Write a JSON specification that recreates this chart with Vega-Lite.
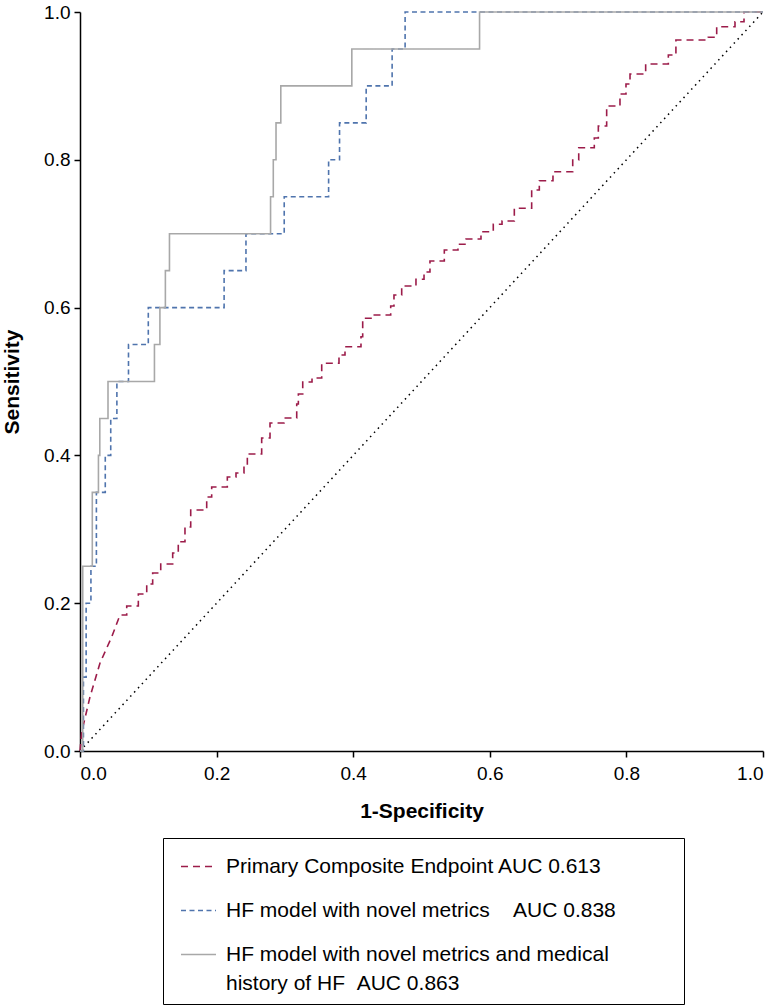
{
  "$schema": "https://vega.github.io/schema/vega-lite/v6.json",
  "width": 683,
  "height": 739,
  "autosize": {"type": "none"},
  "padding": {"left": 80, "top": 12, "right": 17, "bottom": 256},
  "background": "white",
  "config": {
    "font": "Liberation Sans",
    "view": {"stroke": null},
    "style": {"guide-label": {"lineHeight": 29}},
    "axis": {
      "grid": false,
      "domainColor": "black",
      "domainWidth": 1.5,
      "tickColor": "black",
      "tickWidth": 1.5,
      "tickSize": 6,
      "labelColor": "black",
      "labelFontSize": 19,
      "titleColor": "black",
      "titleFontSize": 21,
      "titleFontWeight": "bold"
    }
  },
  "datasets": {
    "diag": [{"fpr": 0, "tpr": 0}, {"fpr": 1, "tpr": 1}],
    "roc": [
      {"series": "Primary Composite Endpoint AUC 0.613", "order": 1, "fpr": 0, "tpr": 0},
      {"series": "Primary Composite Endpoint AUC 0.613", "order": 2, "fpr": 0.0025, "tpr": 0.0257},
      {"series": "Primary Composite Endpoint AUC 0.613", "order": 3, "fpr": 0.0146, "tpr": 0.0731},
      {"series": "Primary Composite Endpoint AUC 0.613", "order": 4, "fpr": 0.0293, "tpr": 0.1191},
      {"series": "Primary Composite Endpoint AUC 0.613", "order": 5, "fpr": 0.0464, "tpr": 0.1543},
      {"series": "Primary Composite Endpoint AUC 0.613", "order": 6, "fpr": 0.0586, "tpr": 0.1840},
      {"series": "Primary Composite Endpoint AUC 0.613", "order": 7, "fpr": 0.0684, "tpr": 0.1840},
      {"series": "Primary Composite Endpoint AUC 0.613", "order": 8, "fpr": 0.0684, "tpr": 0.1962},
      {"series": "Primary Composite Endpoint AUC 0.613", "order": 9, "fpr": 0.0854, "tpr": 0.1962},
      {"series": "Primary Composite Endpoint AUC 0.613", "order": 10, "fpr": 0.0854, "tpr": 0.2124},
      {"series": "Primary Composite Endpoint AUC 0.613", "order": 11, "fpr": 0.0977, "tpr": 0.2124},
      {"series": "Primary Composite Endpoint AUC 0.613", "order": 12, "fpr": 0.0977, "tpr": 0.2260},
      {"series": "Primary Composite Endpoint AUC 0.613", "order": 13, "fpr": 0.1064, "tpr": 0.2260},
      {"series": "Primary Composite Endpoint AUC 0.613", "order": 14, "fpr": 0.1064, "tpr": 0.2409},
      {"series": "Primary Composite Endpoint AUC 0.613", "order": 15, "fpr": 0.1182, "tpr": 0.2409},
      {"series": "Primary Composite Endpoint AUC 0.613", "order": 16, "fpr": 0.1182, "tpr": 0.2530},
      {"series": "Primary Composite Endpoint AUC 0.613", "order": 17, "fpr": 0.1357, "tpr": 0.2530},
      {"series": "Primary Composite Endpoint AUC 0.613", "order": 18, "fpr": 0.1357, "tpr": 0.2679},
      {"series": "Primary Composite Endpoint AUC 0.613", "order": 19, "fpr": 0.1439, "tpr": 0.2679},
      {"series": "Primary Composite Endpoint AUC 0.613", "order": 20, "fpr": 0.1439, "tpr": 0.2832},
      {"series": "Primary Composite Endpoint AUC 0.613", "order": 21, "fpr": 0.1537, "tpr": 0.2832},
      {"series": "Primary Composite Endpoint AUC 0.613", "order": 22, "fpr": 0.1537, "tpr": 0.3031},
      {"series": "Primary Composite Endpoint AUC 0.613", "order": 23, "fpr": 0.1621, "tpr": 0.3031},
      {"series": "Primary Composite Endpoint AUC 0.613", "order": 24, "fpr": 0.1621, "tpr": 0.3261},
      {"series": "Primary Composite Endpoint AUC 0.613", "order": 25, "fpr": 0.1855, "tpr": 0.3261},
      {"series": "Primary Composite Endpoint AUC 0.613", "order": 26, "fpr": 0.1855, "tpr": 0.3437},
      {"series": "Primary Composite Endpoint AUC 0.613", "order": 27, "fpr": 0.1928, "tpr": 0.3437},
      {"series": "Primary Composite Endpoint AUC 0.613", "order": 28, "fpr": 0.1928, "tpr": 0.3572},
      {"series": "Primary Composite Endpoint AUC 0.613", "order": 29, "fpr": 0.2157, "tpr": 0.3572},
      {"series": "Primary Composite Endpoint AUC 0.613", "order": 30, "fpr": 0.2157, "tpr": 0.3708},
      {"series": "Primary Composite Endpoint AUC 0.613", "order": 31, "fpr": 0.2284, "tpr": 0.3708},
      {"series": "Primary Composite Endpoint AUC 0.613", "order": 32, "fpr": 0.2284, "tpr": 0.3762},
      {"series": "Primary Composite Endpoint AUC 0.613", "order": 33, "fpr": 0.2401, "tpr": 0.3762},
      {"series": "Primary Composite Endpoint AUC 0.613", "order": 34, "fpr": 0.2401, "tpr": 0.3857},
      {"series": "Primary Composite Endpoint AUC 0.613", "order": 35, "fpr": 0.2450, "tpr": 0.3857},
      {"series": "Primary Composite Endpoint AUC 0.613", "order": 36, "fpr": 0.2450, "tpr": 0.4019},
      {"series": "Primary Composite Endpoint AUC 0.613", "order": 37, "fpr": 0.2660, "tpr": 0.4019},
      {"series": "Primary Composite Endpoint AUC 0.613", "order": 38, "fpr": 0.2660, "tpr": 0.4235},
      {"series": "Primary Composite Endpoint AUC 0.613", "order": 39, "fpr": 0.2782, "tpr": 0.4235},
      {"series": "Primary Composite Endpoint AUC 0.613", "order": 40, "fpr": 0.2782, "tpr": 0.4438},
      {"series": "Primary Composite Endpoint AUC 0.613", "order": 41, "fpr": 0.2987, "tpr": 0.4438},
      {"series": "Primary Composite Endpoint AUC 0.613", "order": 42, "fpr": 0.2987, "tpr": 0.4506},
      {"series": "Primary Composite Endpoint AUC 0.613", "order": 43, "fpr": 0.3173, "tpr": 0.4506},
      {"series": "Primary Composite Endpoint AUC 0.613", "order": 44, "fpr": 0.3173, "tpr": 0.4696},
      {"series": "Primary Composite Endpoint AUC 0.613", "order": 45, "fpr": 0.3197, "tpr": 0.4696},
      {"series": "Primary Composite Endpoint AUC 0.613", "order": 46, "fpr": 0.3197, "tpr": 0.4831},
      {"series": "Primary Composite Endpoint AUC 0.613", "order": 47, "fpr": 0.3261, "tpr": 0.4831},
      {"series": "Primary Composite Endpoint AUC 0.613", "order": 48, "fpr": 0.3261, "tpr": 0.4993},
      {"series": "Primary Composite Endpoint AUC 0.613", "order": 49, "fpr": 0.3397, "tpr": 0.4993},
      {"series": "Primary Composite Endpoint AUC 0.613", "order": 50, "fpr": 0.3397, "tpr": 0.5047},
      {"series": "Primary Composite Endpoint AUC 0.613", "order": 51, "fpr": 0.3539, "tpr": 0.5047},
      {"series": "Primary Composite Endpoint AUC 0.613", "order": 52, "fpr": 0.3539, "tpr": 0.5246},
      {"series": "Primary Composite Endpoint AUC 0.613", "order": 53, "fpr": 0.3792, "tpr": 0.5246},
      {"series": "Primary Composite Endpoint AUC 0.613", "order": 54, "fpr": 0.3792, "tpr": 0.5359},
      {"series": "Primary Composite Endpoint AUC 0.613", "order": 55, "fpr": 0.3880, "tpr": 0.5359},
      {"series": "Primary Composite Endpoint AUC 0.613", "order": 56, "fpr": 0.3880, "tpr": 0.5471},
      {"series": "Primary Composite Endpoint AUC 0.613", "order": 57, "fpr": 0.4114, "tpr": 0.5471},
      {"series": "Primary Composite Endpoint AUC 0.613", "order": 58, "fpr": 0.4114, "tpr": 0.5606},
      {"series": "Primary Composite Endpoint AUC 0.613", "order": 59, "fpr": 0.4139, "tpr": 0.5606},
      {"series": "Primary Composite Endpoint AUC 0.613", "order": 60, "fpr": 0.4139, "tpr": 0.5855},
      {"series": "Primary Composite Endpoint AUC 0.613", "order": 61, "fpr": 0.4290, "tpr": 0.5855},
      {"series": "Primary Composite Endpoint AUC 0.613", "order": 62, "fpr": 0.4290, "tpr": 0.5900},
      {"series": "Primary Composite Endpoint AUC 0.613", "order": 63, "fpr": 0.4549, "tpr": 0.5900},
      {"series": "Primary Composite Endpoint AUC 0.613", "order": 64, "fpr": 0.4549, "tpr": 0.6022},
      {"series": "Primary Composite Endpoint AUC 0.613", "order": 65, "fpr": 0.4597, "tpr": 0.6022},
      {"series": "Primary Composite Endpoint AUC 0.613", "order": 66, "fpr": 0.4597, "tpr": 0.6171},
      {"series": "Primary Composite Endpoint AUC 0.613", "order": 67, "fpr": 0.4710, "tpr": 0.6171},
      {"series": "Primary Composite Endpoint AUC 0.613", "order": 68, "fpr": 0.4710, "tpr": 0.6292},
      {"series": "Primary Composite Endpoint AUC 0.613", "order": 69, "fpr": 0.4919, "tpr": 0.6292},
      {"series": "Primary Composite Endpoint AUC 0.613", "order": 70, "fpr": 0.4919, "tpr": 0.6383},
      {"series": "Primary Composite Endpoint AUC 0.613", "order": 71, "fpr": 0.5037, "tpr": 0.6383},
      {"series": "Primary Composite Endpoint AUC 0.613", "order": 72, "fpr": 0.5037, "tpr": 0.6482},
      {"series": "Primary Composite Endpoint AUC 0.613", "order": 73, "fpr": 0.5124, "tpr": 0.6482},
      {"series": "Primary Composite Endpoint AUC 0.613", "order": 74, "fpr": 0.5124, "tpr": 0.6631},
      {"series": "Primary Composite Endpoint AUC 0.613", "order": 75, "fpr": 0.5334, "tpr": 0.6631},
      {"series": "Primary Composite Endpoint AUC 0.613", "order": 76, "fpr": 0.5334, "tpr": 0.6779},
      {"series": "Primary Composite Endpoint AUC 0.613", "order": 77, "fpr": 0.5534, "tpr": 0.6779},
      {"series": "Primary Composite Endpoint AUC 0.613", "order": 78, "fpr": 0.5534, "tpr": 0.6857},
      {"series": "Primary Composite Endpoint AUC 0.613", "order": 79, "fpr": 0.5652, "tpr": 0.6857},
      {"series": "Primary Composite Endpoint AUC 0.613", "order": 80, "fpr": 0.5652, "tpr": 0.6928},
      {"series": "Primary Composite Endpoint AUC 0.613", "order": 81, "fpr": 0.5871, "tpr": 0.6928},
      {"series": "Primary Composite Endpoint AUC 0.613", "order": 82, "fpr": 0.5871, "tpr": 0.7027},
      {"series": "Primary Composite Endpoint AUC 0.613", "order": 83, "fpr": 0.6051, "tpr": 0.7027},
      {"series": "Primary Composite Endpoint AUC 0.613", "order": 84, "fpr": 0.6051, "tpr": 0.7127},
      {"series": "Primary Composite Endpoint AUC 0.613", "order": 85, "fpr": 0.6179, "tpr": 0.7127},
      {"series": "Primary Composite Endpoint AUC 0.613", "order": 86, "fpr": 0.6179, "tpr": 0.7172},
      {"series": "Primary Composite Endpoint AUC 0.613", "order": 87, "fpr": 0.6359, "tpr": 0.7172},
      {"series": "Primary Composite Endpoint AUC 0.613", "order": 88, "fpr": 0.6359, "tpr": 0.7344},
      {"series": "Primary Composite Endpoint AUC 0.613", "order": 89, "fpr": 0.6613, "tpr": 0.7344},
      {"series": "Primary Composite Endpoint AUC 0.613", "order": 90, "fpr": 0.6613, "tpr": 0.7591},
      {"series": "Primary Composite Endpoint AUC 0.613", "order": 91, "fpr": 0.6725, "tpr": 0.7591},
      {"series": "Primary Composite Endpoint AUC 0.613", "order": 92, "fpr": 0.6725, "tpr": 0.7717},
      {"series": "Primary Composite Endpoint AUC 0.613", "order": 93, "fpr": 0.6925, "tpr": 0.7717},
      {"series": "Primary Composite Endpoint AUC 0.613", "order": 94, "fpr": 0.6925, "tpr": 0.7839},
      {"series": "Primary Composite Endpoint AUC 0.613", "order": 95, "fpr": 0.7214, "tpr": 0.7839},
      {"series": "Primary Composite Endpoint AUC 0.613", "order": 96, "fpr": 0.7214, "tpr": 0.7997},
      {"series": "Primary Composite Endpoint AUC 0.613", "order": 97, "fpr": 0.7302, "tpr": 0.7997},
      {"series": "Primary Composite Endpoint AUC 0.613", "order": 98, "fpr": 0.7302, "tpr": 0.8164},
      {"series": "Primary Composite Endpoint AUC 0.613", "order": 99, "fpr": 0.7530, "tpr": 0.8164},
      {"series": "Primary Composite Endpoint AUC 0.613", "order": 100, "fpr": 0.7530, "tpr": 0.8295},
      {"series": "Primary Composite Endpoint AUC 0.613", "order": 101, "fpr": 0.7589, "tpr": 0.8295},
      {"series": "Primary Composite Endpoint AUC 0.613", "order": 102, "fpr": 0.7589, "tpr": 0.8457},
      {"series": "Primary Composite Endpoint AUC 0.613", "order": 103, "fpr": 0.7711, "tpr": 0.8457},
      {"series": "Primary Composite Endpoint AUC 0.613", "order": 104, "fpr": 0.7711, "tpr": 0.8728},
      {"series": "Primary Composite Endpoint AUC 0.613", "order": 105, "fpr": 0.7906, "tpr": 0.8728},
      {"series": "Primary Composite Endpoint AUC 0.613", "order": 106, "fpr": 0.7906, "tpr": 0.8890},
      {"series": "Primary Composite Endpoint AUC 0.613", "order": 107, "fpr": 0.7994, "tpr": 0.8890},
      {"series": "Primary Composite Endpoint AUC 0.613", "order": 108, "fpr": 0.7994, "tpr": 0.9026},
      {"series": "Primary Composite Endpoint AUC 0.613", "order": 109, "fpr": 0.8053, "tpr": 0.9026},
      {"series": "Primary Composite Endpoint AUC 0.613", "order": 110, "fpr": 0.8053, "tpr": 0.9161},
      {"series": "Primary Composite Endpoint AUC 0.613", "order": 111, "fpr": 0.8282, "tpr": 0.9161},
      {"series": "Primary Composite Endpoint AUC 0.613", "order": 112, "fpr": 0.8282, "tpr": 0.9296},
      {"series": "Primary Composite Endpoint AUC 0.613", "order": 113, "fpr": 0.8614, "tpr": 0.9296},
      {"series": "Primary Composite Endpoint AUC 0.613", "order": 114, "fpr": 0.8614, "tpr": 0.9418},
      {"series": "Primary Composite Endpoint AUC 0.613", "order": 115, "fpr": 0.8725, "tpr": 0.9418},
      {"series": "Primary Composite Endpoint AUC 0.613", "order": 116, "fpr": 0.8725, "tpr": 0.9621},
      {"series": "Primary Composite Endpoint AUC 0.613", "order": 117, "fpr": 0.9199, "tpr": 0.9621},
      {"series": "Primary Composite Endpoint AUC 0.613", "order": 118, "fpr": 0.9199, "tpr": 0.9658},
      {"series": "Primary Composite Endpoint AUC 0.613", "order": 119, "fpr": 0.9322, "tpr": 0.9658},
      {"series": "Primary Composite Endpoint AUC 0.613", "order": 120, "fpr": 0.9322, "tpr": 0.9801},
      {"series": "Primary Composite Endpoint AUC 0.613", "order": 121, "fpr": 0.9590, "tpr": 0.9801},
      {"series": "Primary Composite Endpoint AUC 0.613", "order": 122, "fpr": 0.9590, "tpr": 0.9869},
      {"series": "Primary Composite Endpoint AUC 0.613", "order": 123, "fpr": 0.9722, "tpr": 0.9869},
      {"series": "Primary Composite Endpoint AUC 0.613", "order": 124, "fpr": 0.9722, "tpr": 1.0},
      {"series": "Primary Composite Endpoint AUC 0.613", "order": 125, "fpr": 1.0, "tpr": 1.0},

      {"series": "HF model with novel metrics    AUC 0.838", "order": 1, "fpr": 0, "tpr": 0},
      {"series": "HF model with novel metrics    AUC 0.838", "order": 2, "fpr": 0.005, "tpr": 0},
      {"series": "HF model with novel metrics    AUC 0.838", "order": 3, "fpr": 0.005, "tpr": 0.10},
      {"series": "HF model with novel metrics    AUC 0.838", "order": 4, "fpr": 0.009, "tpr": 0.10},
      {"series": "HF model with novel metrics    AUC 0.838", "order": 5, "fpr": 0.009, "tpr": 0.20},
      {"series": "HF model with novel metrics    AUC 0.838", "order": 6, "fpr": 0.016, "tpr": 0.20},
      {"series": "HF model with novel metrics    AUC 0.838", "order": 7, "fpr": 0.016, "tpr": 0.25},
      {"series": "HF model with novel metrics    AUC 0.838", "order": 8, "fpr": 0.024, "tpr": 0.25},
      {"series": "HF model with novel metrics    AUC 0.838", "order": 9, "fpr": 0.024, "tpr": 0.35},
      {"series": "HF model with novel metrics    AUC 0.838", "order": 10, "fpr": 0.037, "tpr": 0.35},
      {"series": "HF model with novel metrics    AUC 0.838", "order": 11, "fpr": 0.037, "tpr": 0.40},
      {"series": "HF model with novel metrics    AUC 0.838", "order": 12, "fpr": 0.045, "tpr": 0.40},
      {"series": "HF model with novel metrics    AUC 0.838", "order": 13, "fpr": 0.045, "tpr": 0.45},
      {"series": "HF model with novel metrics    AUC 0.838", "order": 14, "fpr": 0.054, "tpr": 0.45},
      {"series": "HF model with novel metrics    AUC 0.838", "order": 15, "fpr": 0.054, "tpr": 0.50},
      {"series": "HF model with novel metrics    AUC 0.838", "order": 16, "fpr": 0.071, "tpr": 0.50},
      {"series": "HF model with novel metrics    AUC 0.838", "order": 17, "fpr": 0.071, "tpr": 0.55},
      {"series": "HF model with novel metrics    AUC 0.838", "order": 18, "fpr": 0.100, "tpr": 0.55},
      {"series": "HF model with novel metrics    AUC 0.838", "order": 19, "fpr": 0.100, "tpr": 0.60},
      {"series": "HF model with novel metrics    AUC 0.838", "order": 20, "fpr": 0.211, "tpr": 0.60},
      {"series": "HF model with novel metrics    AUC 0.838", "order": 21, "fpr": 0.211, "tpr": 0.65},
      {"series": "HF model with novel metrics    AUC 0.838", "order": 22, "fpr": 0.243, "tpr": 0.65},
      {"series": "HF model with novel metrics    AUC 0.838", "order": 23, "fpr": 0.243, "tpr": 0.70},
      {"series": "HF model with novel metrics    AUC 0.838", "order": 24, "fpr": 0.299, "tpr": 0.70},
      {"series": "HF model with novel metrics    AUC 0.838", "order": 25, "fpr": 0.299, "tpr": 0.75},
      {"series": "HF model with novel metrics    AUC 0.838", "order": 26, "fpr": 0.364, "tpr": 0.75},
      {"series": "HF model with novel metrics    AUC 0.838", "order": 27, "fpr": 0.364, "tpr": 0.80},
      {"series": "HF model with novel metrics    AUC 0.838", "order": 28, "fpr": 0.380, "tpr": 0.80},
      {"series": "HF model with novel metrics    AUC 0.838", "order": 29, "fpr": 0.380, "tpr": 0.85},
      {"series": "HF model with novel metrics    AUC 0.838", "order": 30, "fpr": 0.419, "tpr": 0.85},
      {"series": "HF model with novel metrics    AUC 0.838", "order": 31, "fpr": 0.419, "tpr": 0.90},
      {"series": "HF model with novel metrics    AUC 0.838", "order": 32, "fpr": 0.457, "tpr": 0.90},
      {"series": "HF model with novel metrics    AUC 0.838", "order": 33, "fpr": 0.457, "tpr": 0.95},
      {"series": "HF model with novel metrics    AUC 0.838", "order": 34, "fpr": 0.476, "tpr": 0.95},
      {"series": "HF model with novel metrics    AUC 0.838", "order": 35, "fpr": 0.476, "tpr": 1.0},
      {"series": "HF model with novel metrics    AUC 0.838", "order": 36, "fpr": 1.0, "tpr": 1.0},

      {"series": "HF model with novel metrics and medical history of HF  AUC 0.863", "order": 1, "fpr": 0, "tpr": 0},
      {"series": "HF model with novel metrics and medical history of HF  AUC 0.863", "order": 2, "fpr": 0.004, "tpr": 0},
      {"series": "HF model with novel metrics and medical history of HF  AUC 0.863", "order": 3, "fpr": 0.004, "tpr": 0.25},
      {"series": "HF model with novel metrics and medical history of HF  AUC 0.863", "order": 4, "fpr": 0.018, "tpr": 0.25},
      {"series": "HF model with novel metrics and medical history of HF  AUC 0.863", "order": 5, "fpr": 0.018, "tpr": 0.35},
      {"series": "HF model with novel metrics and medical history of HF  AUC 0.863", "order": 6, "fpr": 0.027, "tpr": 0.35},
      {"series": "HF model with novel metrics and medical history of HF  AUC 0.863", "order": 7, "fpr": 0.027, "tpr": 0.40},
      {"series": "HF model with novel metrics and medical history of HF  AUC 0.863", "order": 8, "fpr": 0.029, "tpr": 0.40},
      {"series": "HF model with novel metrics and medical history of HF  AUC 0.863", "order": 9, "fpr": 0.029, "tpr": 0.45},
      {"series": "HF model with novel metrics and medical history of HF  AUC 0.863", "order": 10, "fpr": 0.041, "tpr": 0.45},
      {"series": "HF model with novel metrics and medical history of HF  AUC 0.863", "order": 11, "fpr": 0.041, "tpr": 0.50},
      {"series": "HF model with novel metrics and medical history of HF  AUC 0.863", "order": 12, "fpr": 0.109, "tpr": 0.50},
      {"series": "HF model with novel metrics and medical history of HF  AUC 0.863", "order": 13, "fpr": 0.109, "tpr": 0.55},
      {"series": "HF model with novel metrics and medical history of HF  AUC 0.863", "order": 14, "fpr": 0.117, "tpr": 0.55},
      {"series": "HF model with novel metrics and medical history of HF  AUC 0.863", "order": 15, "fpr": 0.117, "tpr": 0.60},
      {"series": "HF model with novel metrics and medical history of HF  AUC 0.863", "order": 16, "fpr": 0.125, "tpr": 0.60},
      {"series": "HF model with novel metrics and medical history of HF  AUC 0.863", "order": 17, "fpr": 0.125, "tpr": 0.65},
      {"series": "HF model with novel metrics and medical history of HF  AUC 0.863", "order": 18, "fpr": 0.131, "tpr": 0.65},
      {"series": "HF model with novel metrics and medical history of HF  AUC 0.863", "order": 19, "fpr": 0.131, "tpr": 0.70},
      {"series": "HF model with novel metrics and medical history of HF  AUC 0.863", "order": 20, "fpr": 0.279, "tpr": 0.70},
      {"series": "HF model with novel metrics and medical history of HF  AUC 0.863", "order": 21, "fpr": 0.279, "tpr": 0.75},
      {"series": "HF model with novel metrics and medical history of HF  AUC 0.863", "order": 22, "fpr": 0.283, "tpr": 0.75},
      {"series": "HF model with novel metrics and medical history of HF  AUC 0.863", "order": 23, "fpr": 0.283, "tpr": 0.80},
      {"series": "HF model with novel metrics and medical history of HF  AUC 0.863", "order": 24, "fpr": 0.287, "tpr": 0.80},
      {"series": "HF model with novel metrics and medical history of HF  AUC 0.863", "order": 25, "fpr": 0.287, "tpr": 0.85},
      {"series": "HF model with novel metrics and medical history of HF  AUC 0.863", "order": 26, "fpr": 0.294, "tpr": 0.85},
      {"series": "HF model with novel metrics and medical history of HF  AUC 0.863", "order": 27, "fpr": 0.294, "tpr": 0.90},
      {"series": "HF model with novel metrics and medical history of HF  AUC 0.863", "order": 28, "fpr": 0.398, "tpr": 0.90},
      {"series": "HF model with novel metrics and medical history of HF  AUC 0.863", "order": 29, "fpr": 0.398, "tpr": 0.95},
      {"series": "HF model with novel metrics and medical history of HF  AUC 0.863", "order": 30, "fpr": 0.585, "tpr": 0.95},
      {"series": "HF model with novel metrics and medical history of HF  AUC 0.863", "order": 31, "fpr": 0.585, "tpr": 1.0},
      {"series": "HF model with novel metrics and medical history of HF  AUC 0.863", "order": 32, "fpr": 1.0, "tpr": 1.0}
    ]
  },
  "layer": [
    {
      "data": {"name": "diag"},
      "mark": {"type": "line", "color": "black", "strokeWidth": 1.5, "strokeDash": [1.5, 4.2]},
      "encoding": {
        "x": {"field": "fpr", "type": "quantitative", "scale": {"domain": [0, 1], "nice": false}},
        "y": {"field": "tpr", "type": "quantitative", "scale": {"domain": [0, 1], "nice": false}}
      }
    },
    {
      "data": {"name": "roc"},
      "mark": {"type": "line", "strokeWidth": 1.6},
      "encoding": {
        "x": {
          "field": "fpr", "type": "quantitative",
          "scale": {"domain": [0, 1], "nice": false},
          "axis": {"title": "1-Specificity", "values": [0, 0.2, 0.4, 0.6, 0.8, 1.0], "format": ".1f", "labelPadding": 7, "titlePadding": 17}
        },
        "y": {
          "field": "tpr", "type": "quantitative",
          "scale": {"domain": [0, 1], "nice": false},
          "axis": {"title": "Sensitivity", "values": [0, 0.2, 0.4, 0.6, 0.8, 1.0], "format": ".1f", "labelPadding": 4, "titlePadding": 21}
        },
        "order": {"field": "order", "type": "quantitative"},
        "color": {
          "field": "series", "type": "nominal",
          "scale": {
            "domain": ["Primary Composite Endpoint AUC 0.613", "HF model with novel metrics    AUC 0.838", "HF model with novel metrics and medical history of HF  AUC 0.863"],
            "range": ["#9c1c4a", "#4f74ad", "#a8a8a8"]
          },
          "legend": {
            "title": " ",
            "titleOrient": "right",
            "titlePadding": 58,
            "titleFontSize": 21,
            "orient": "none",
            "legendX": 83,
            "legendY": 826,
            "strokeColor": "black",
            "padding": 10,
            "symbolOffset": 7,
            "symbolType": "stroke",
            "symbolSize": 1225,
            "symbolStrokeWidth": 1.5,
            "labelFontSize": 21,
            "labelColor": "black",
            "labelLimit": 0,
            "labelOffset": 9,
            "rowPadding": 15,
            "labelExpr": "datum.label == 'HF model with novel metrics and medical history of HF  AUC 0.863' ? ['HF model with novel metrics and medical', 'history of HF\u00a0\u00a0AUC 0.863'] : replace(datum.label, '    ', '\u00a0\u00a0\u00a0\u00a0')"
          }
        },
        "strokeDash": {
          "field": "series", "type": "nominal",
          "scale": {
            "domain": ["Primary Composite Endpoint AUC 0.613", "HF model with novel metrics    AUC 0.838", "HF model with novel metrics and medical history of HF  AUC 0.863"],
            "range": [[7, 5], [5, 3.5], [1, 0]]
          },
          "legend": null
        }
      }
    }
  ]
}
